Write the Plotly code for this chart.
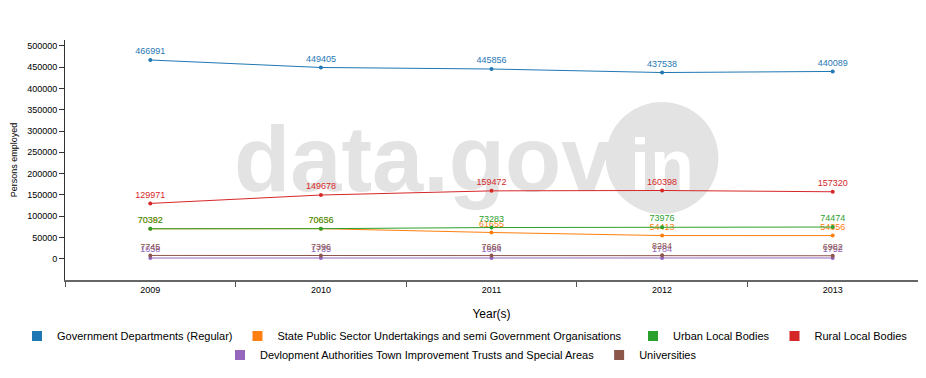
import plotly.graph_objects as go

years = ["2009", "2010", "2011", "2012", "2013"]
series_names = [
    "Government Departments (Regular)",
    "State Public Sector Undertakings and semi Government Organisations",
    "Urban Local Bodies",
    "Rural Local Bodies",
    "Devlopment Authorities Town Improvement Trusts and Special Areas",
    "Universities",
]
govt_depts = [466991, 449405, 445856, 437538, 440089]
state_psu = [70382, 70636, 61655, 54413, 54356]
urban_local = [70392, 70656, 73283, 73976, 74474]
rural_local = [129971, 149678, 159472, 160398, 157320]
dev_authorities = [1658, 1735, 1684, 1784, 1752]
universities = [7745, 7396, 7666, 8284, 6982]
y_ticks = [0, 50000, 100000, 150000, 200000, 250000, 300000, 350000, 400000, 450000, 500000]
colors = ["#1f77b4", "#ff7f0e", "#2ca02c", "#d62728", "#9467bd", "#8c564b"]

all_series = [govt_depts, state_psu, urban_local, rural_local, dev_authorities, universities]

W, H = 918, 370  # page body adds an 8px offset

fig = go.Figure()
for name, vals, col in zip(series_names, all_series, colors):
    fig.add_trace(go.Scatter(
        x=years, y=vals, name=name, mode="lines+markers+text",
        text=[str(v) for v in vals], textposition="top center",
        textfont=dict(size=9, color=col, family="Arial"),
        line=dict(color=col, width=1), marker=dict(color=col, size=4),
        cliponaxis=False, showlegend=False,
    ))

legend_ids = ["legend", "legend", "legend2", "legend2", "legend3", "legend3"]
for name, col, lid in zip(series_names, colors, legend_ids):
    fig.add_trace(go.Scatter(
        x=[None], y=[None], name=name, mode="markers",
        marker=dict(symbol="square", size=10, color=col),
        showlegend=True, legend=lid,
    ))

def leg(xpx, ypx):
    return dict(orientation="h", xref="container", yref="container",
                x=xpx / W, xanchor="left", y=1 - ypx / H, yanchor="middle",
                font=dict(size=11, family="Arial", color="#000"),
                itemwidth=30, tracegroupgap=0, bgcolor="rgba(0,0,0,0)")

wm = "#e3e3e3"
fig.update_layout(
    width=W, height=H,
    margin=dict(l=57, r=8, t=32, b=98, autoexpand=False),
    paper_bgcolor="white", plot_bgcolor="white",
    font=dict(family="Arial", size=11, color="#000"),
    showlegend=True,
    legend=leg(9, 328),
    legend2=leg(625, 328),
    legend3=leg(212, 347),
    xaxis=dict(type="category", range=[-0.5, 4.5], tickson="boundaries",
               ticks="outside", ticklen=5, tickcolor="#555", showline=True,
               linecolor="#666", linewidth=2, showgrid=False,
               tickfont=dict(size=9), title=dict(text="Year(s)", font=dict(size=12), standoff=17)),
    yaxis=dict(range=[-50000, 514000], tickvals=y_ticks, tickformat="d",
               ticks="outside", ticklen=5, tickcolor="#333", showline=True, linecolor="#333",
               linewidth=1, showgrid=False, zeroline=False, tickfont=dict(size=9),
               title=dict(text="Persons employed", font=dict(size=9), standoff=8)),
    shapes=[
        dict(type="rect", xref="paper", yref="paper", x0=0.2, x1=0.64, y0=0.35, y1=0.73,
             line=dict(width=0), fillcolor="rgba(0,0,0,0)", layer="below",
             label=dict(text="<b>data.gov</b>", font=dict(size=92, color=wm, family="Arial"),
                        textposition="middle center")),
        dict(type="circle", xref="paper", yref="paper", x0=0.634, x1=0.766, y0=0.275, y1=0.742,
             line=dict(width=0), fillcolor=wm, layer="below",
             label=dict(text="<b>in</b>", font=dict(size=72, color="white", family="Arial"),
                        textposition="middle center")),
    ],
)
fig.write_html("out.html")
